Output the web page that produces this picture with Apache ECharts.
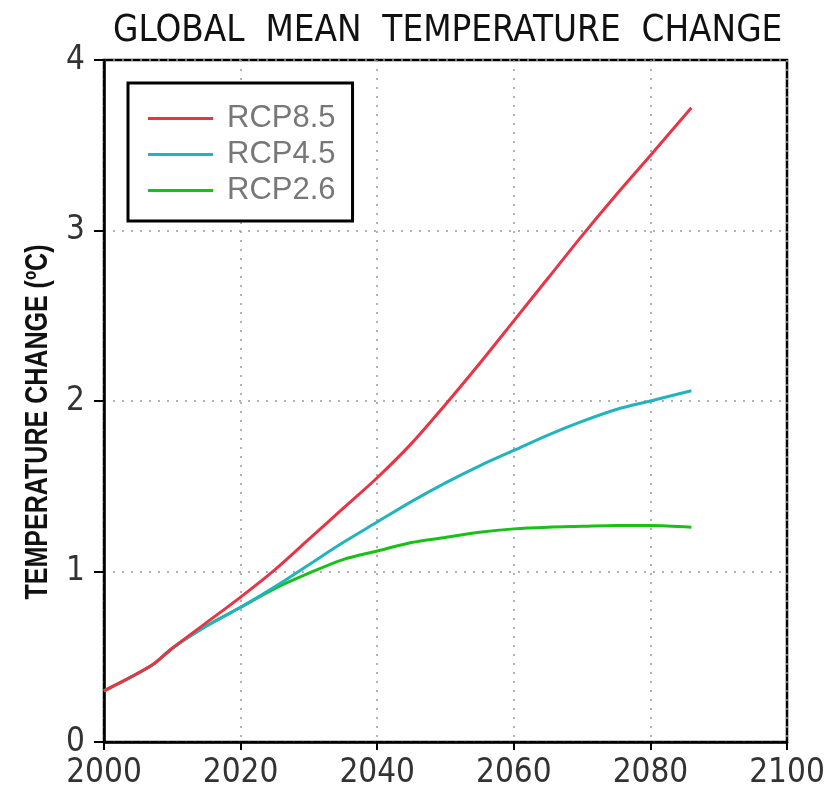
<!DOCTYPE html>
<html>
<head>
<meta charset="utf-8">
<script src="https://cdn.jsdelivr.net/npm/echarts@6/dist/echarts.min.js"></script>
<style>html,body{margin:0;padding:0;background:#fff;}#c{width:840px;height:791px;}</style>
</head>
<body>
<div id="c"></div>
<script>
const years = [2000, 2007, 2010, 2015, 2020, 2025, 2030, 2035, 2040, 2045, 2050, 2055, 2060, 2065, 2070, 2075, 2080, 2086];
const rcp85 = [0.30, 0.45, 0.55, 0.70, 0.85, 1.01, 1.19, 1.37, 1.55, 1.75, 1.98, 2.22, 2.47, 2.72, 2.97, 3.21, 3.44, 3.72];
const rcp45 = [0.30, 0.45, 0.55, 0.68, 0.79, 0.91, 1.04, 1.17, 1.29, 1.41, 1.52, 1.62, 1.71, 1.80, 1.88, 1.95, 2.00, 2.06];
const rcp26 = [0.30, 0.45, 0.55, 0.68, 0.79, 0.90, 0.99, 1.07, 1.12, 1.17, 1.20, 1.23, 1.25, 1.26, 1.265, 1.27, 1.27, 1.26];
const seriesNames = ['RCP8.5', 'RCP4.5', 'RCP2.6'];
const seriesColors = ['#e83444', '#22b4be', '#18c018'];
const xTicks = [2000, 2020, 2040, 2060, 2080, 2100];
const yTicks = [0, 1, 2, 3, 4];
const titleText = 'GLOBAL  MEAN  TEMPERATURE  CHANGE';
const yName = 'TEMPERATURE CHANGE (ºC)';

const pair = arr => years.map((y, i) => [y, arr[i]]);
const dataSets = [rcp85, rcp45, rcp26];

// measure text to compress the y-axis name into a narrow look
const mctx = document.createElement('canvas').getContext('2d');
const yFont = 'bold 31px "Liberation Sans", Arial, sans-serif';
mctx.font = yFont;
const yNameW = mctx.measureText(yName).width;
const yScale = 355 / yNameW;

const chart = echarts.init(document.getElementById('c'), null, {renderer: 'canvas'});
const COND = '"DejaVu Sans Condensed", "Liberation Sans", sans-serif';
chart.setOption({
  animation: false,
  backgroundColor: '#fff',
  title: {
    text: titleText,
    left: 108,
    top: 8,
    textStyle: {fontFamily: COND, fontSize: 36.5, fontWeight: 'normal', color: '#111'}
  },
  graphic: [{
    type: 'text',
    x: 38, y: 422,
    rotation: Math.PI / 2,
    scaleX: yScale,
    style: {text: yName, font: yFont, fill: '#111', align: 'center', verticalAlign: 'middle'}
  }],
  grid: {left: 104, right: 53, top: 60, bottom: 49, show: true, borderColor: '#000', borderWidth: 2.5, backgroundColor: '#fff'},
  legend: {
    left: 128, top: 83, orient: 'vertical',
    padding: [20, 17, 15, 20],
    itemWidth: 65, itemHeight: 3, itemGap: 5,
    icon: 'rect',
    backgroundColor: '#fff', borderColor: '#000', borderWidth: 3,
    textStyle: {fontFamily: '"Liberation Sans", Arial, sans-serif', fontSize: 31, color: '#777', lineHeight: 30, padding: [0, 0, 0, 9]},
    data: seriesNames
  },
  xAxis: {
    type: 'value', min: 2000, max: 2100, interval: 20,
    axisLine: {show: true, lineStyle: {color: '#000', width: 2.5}},
    axisTick: {show: true, length: 8, lineStyle: {color: '#000', width: 2}},
    axisLabel: {fontFamily: COND, fontSize: 33, color: '#333', margin: 15,
      formatter: v => xTicks.includes(v) ? String(v) : ''},
    splitLine: {show: true, lineStyle: {color: '#999', type: [2, 7], width: 1.5}}
  },
  yAxis: {
    type: 'value', min: 0, max: 4, interval: 1,
    axisLine: {show: true, lineStyle: {color: '#000', width: 2.5}},
    axisTick: {show: true, length: 10, lineStyle: {color: '#000', width: 2}},
    axisLabel: {fontFamily: COND, fontSize: 33, color: '#333', margin: 19,
      formatter: v => yTicks.includes(v) ? String(v) : ''},
    splitLine: {show: true, lineStyle: {color: '#999', type: [2, 7], width: 1.5}}
  },
  series: seriesNames.map((n, i) => ({
    name: n, type: 'line', data: pair(dataSets[i]),
    smooth: 0.3, showSymbol: false, symbol: 'none',
    lineStyle: {color: seriesColors[i], width: 3},
    itemStyle: {color: seriesColors[i]},
    z: 10 - i
  }))
});
</script>
</body>
</html>
